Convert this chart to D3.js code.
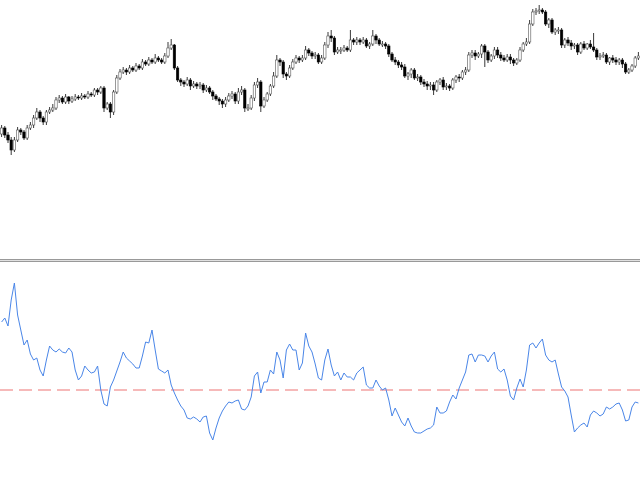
<!DOCTYPE html>
<html><head><meta charset="utf-8">
<script src="https://cdn.jsdelivr.net/npm/d3@7"></script>
<style>html,body{margin:0;padding:0;background:#fff;overflow:hidden}svg{display:block}</style>
</head><body>
<script>
const opens = [166,172,165,160,150,160,170,168,162,172,175,182,188,182,178,188,190,192,200,202,198,203,199,201,203,202,204,203,206,205,210,208,212,192,196,188,208,222,228,230,228,232,230,234,232,238,236,240,238,242,240,238,244,252,255,232,220,218,216,220,214,216,214,215,210,212,208,204,201,199,196,200,204,206,199,208,210,192,192,202,215,218,194,200,206,214,224,240,238,226,224,232,238,242,240,242,250,247,244,245,238,242,255,264,262,248,250,250,252,250,260,258,260,258,260,254,256,264,260,256,256,254,246,240,238,235,233,224,226,230,222,223,218,216,214,215,210,218,220,213,214,212,220,223,222,228,230,245,247,244,246,254,248,240,244,250,245,242,240,243,240,237,240,250,256,258,276,288,289,290,288,276,280,268,270,270,255,260,257,254,255,248,256,252,256,253,250,243,244,245,238,242,240,238,240,236,228,230,234,242];
const highs = [175,174,168,163,163,173,172,170,175,178,185,192,190,184,190,193,196,203,205,204,206,204,204,206,205,207,206,209,208,212,212,214,214,198,198,210,225,231,233,232,235,234,237,236,241,240,243,242,246,244,242,247,258,261,256,234,222,220,223,222,219,218,218,217,215,214,210,206,203,201,203,207,209,208,212,214,212,196,205,218,222,220,203,208,216,228,245,242,240,228,235,241,245,244,245,254,252,249,248,247,245,258,268,270,264,253,253,255,254,270,262,263,262,263,262,258,270,266,262,259,258,256,248,243,240,238,236,228,232,232,226,225,221,219,218,218,220,222,223,217,216,222,225,226,230,233,248,250,250,248,256,256,250,246,253,253,248,245,246,246,242,242,253,258,262,280,291,292,295,292,290,282,282,272,273,272,262,263,260,257,257,258,259,257,260,267,252,247,248,247,243,245,243,242,242,238,232,236,244,248];
const lows = [163,162,157,145,148,158,165,160,160,170,172,180,178,175,175,186,188,190,197,196,196,196,197,199,200,200,201,201,203,203,205,206,188,190,182,185,206,220,226,225,226,228,228,230,230,234,234,236,236,238,236,236,242,250,230,218,214,213,214,210,212,211,211,207,208,206,200,199,195,192,193,198,201,196,196,205,188,189,190,199,212,188,192,198,204,212,222,234,222,220,222,230,236,237,238,240,244,241,241,236,236,240,252,258,245,246,246,248,248,248,255,255,255,256,252,251,254,256,254,253,251,243,238,235,232,230,222,220,222,220,219,215,213,210,210,205,208,215,210,210,209,210,217,218,220,225,228,242,240,242,242,233,237,238,241,242,239,238,238,236,234,235,238,248,254,256,274,285,286,286,274,272,266,265,266,252,252,254,250,251,245,246,250,250,251,248,240,240,242,236,235,237,235,235,232,226,226,228,232,240];
const closes = [172,165,160,150,160,170,168,162,172,175,182,188,182,178,188,190,192,200,202,198,203,199,201,203,202,204,203,206,205,210,208,212,192,196,188,208,222,228,230,228,232,230,234,232,238,236,240,238,242,240,238,244,252,255,232,220,218,216,220,214,216,214,215,210,212,208,204,201,199,196,200,204,206,199,208,210,192,192,202,215,218,194,200,206,214,224,240,238,226,224,232,238,242,240,242,250,247,244,245,238,242,255,264,262,248,250,250,252,250,260,258,260,258,260,254,256,264,260,256,256,254,246,240,238,235,233,224,226,230,222,223,218,216,214,215,210,218,220,213,214,212,220,223,222,228,230,245,247,244,246,254,248,240,244,250,245,242,240,243,240,237,240,250,256,258,276,288,289,290,288,276,280,268,270,270,255,260,257,254,255,248,256,252,256,253,250,243,244,245,238,242,240,238,240,236,228,230,234,242,244];
const oscValues = [68,72,64,90,107,75,60,45,50,36,30,32,20,14,30,44,40,38,41,38,37,42,38,20,10,14,24,20,17,18,24,0,-14,-16,3,10,19,28,38,32,29,26,22,22,34,48,47,60,40,21,19,17,20,5,-3,-10,-16,-20,-28,-29,-27,-29,-32,-27,-26,-43,-50,-38,-28,-21,-16,-12,-13,-11,-10,-19,-20,-16,-7,14,18,-3,8,8,20,16,38,30,12,40,46,40,40,20,27,57,44,38,26,12,10,30,41,25,14,18,10,17,13,13,10,17,20,23,5,2,2,10,4,0,2,-10,-26,-18,-25,-32,-36,-28,-36,-42,-43,-43,-41,-39,-38,-35,-17,-23,-23,-21,-12,-5,-9,2,10,18,35,36,28,35,35,34,28,34,38,21,18,21,10,-6,-10,2,11,3,20,45,47,42,47,51,35,30,28,30,16,3,-1,-7,-25,-42,-38,-35,-33,-37,-25,-21,-23,-26,-24,-17,-19,-17,-14,-13,-20,-31,-30,-17,-12,-13];
const oscLevels = [0];

const W = 640, H = 480;
const N = closes.length;
const svg = d3.select("body").append("svg").attr("width", W).attr("height", H);
svg.append("rect").attr("width", W).attr("height", H).attr("fill", "#fff");

const x = d3.scaleLinear().domain([0, N]).range([0, W]);
const y = d3.scaleLinear().domain([40, 300]).range([260, 0]);
const yo = d3.scaleLinear().domain([-90, 128]).range([480, 262]);

const candles = d3.range(N).map(i => ({i, o: opens[i], h: highs[i], l: lows[i], c: closes[i]}));
const gMain = svg.append("g");
gMain.selectAll("line.wick").data(candles).join("line")
  .attr("x1", d => x(d.i + 0.5)).attr("x2", d => x(d.i + 0.5))
  .attr("y1", d => y(d.h)).attr("y2", d => y(d.l))
  .attr("stroke", "#222").attr("stroke-width", 0.9);
const bw = 2.4;
gMain.selectAll("rect.body").data(candles).join("rect")
  .attr("x", d => x(d.i + 0.5) - bw / 2)
  .attr("width", bw)
  .attr("y", d => y(Math.max(d.o, d.c)))
  .attr("height", d => Math.max(1, Math.abs(y(d.o) - y(d.c))))
  .attr("fill", d => d.c >= d.o ? "#fff" : "#000")
  .attr("stroke", d => d.c >= d.o ? "#555" : "#000").attr("stroke-width", 0.6);

// separator
svg.append("line").attr("x1", 0).attr("x2", W).attr("y1", 259.5).attr("y2", 259.5).attr("stroke", "#999");
svg.append("line").attr("x1", 0).attr("x2", W).attr("y1", 260.5).attr("y2", 260.5).attr("stroke", "#e0e0e0");
svg.append("line").attr("x1", 0).attr("x2", W).attr("y1", 261.5).attr("y2", 261.5).attr("stroke", "#999");

// level
svg.selectAll("line.level").data(oscLevels).join("line")
  .attr("x1", 0).attr("x2", W).attr("y1", d => yo(d)).attr("y2", d => yo(d))
  .attr("stroke", "#f4a3a3").attr("stroke-width", 1.6).attr("stroke-dasharray", "13,6");

// oscillator line
const line = d3.line().x((d, i) => x(i + 0.5)).y(d => yo(d));
svg.append("path").datum(oscValues).attr("d", line)
  .attr("fill", "none").attr("stroke", "#4a86e8").attr("stroke-width", 1);
</script>
</body></html>
